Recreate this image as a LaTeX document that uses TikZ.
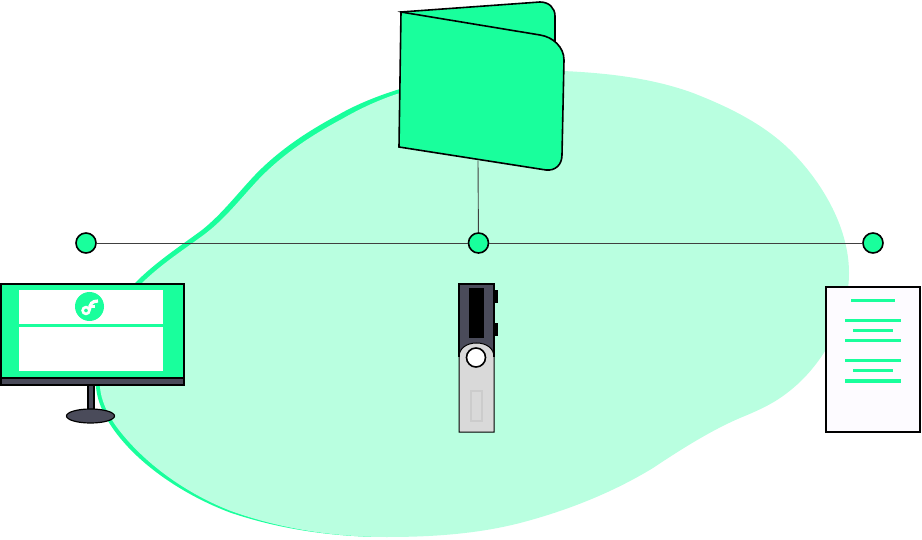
\documentclass[tikz,border=0pt]{standalone}
\definecolor{mint}{HTML}{19FF9C}
\definecolor{palemint}{HTML}{B9FFE0}
\definecolor{slate}{HTML}{4A4B5A}
\definecolor{sheet}{HTML}{FDFBFF}
\tikzset{
  dot/.style={circle,draw=black,fill=mint,line width=1.6pt,minimum size=20pt,inner sep=0pt},
  wire/.style={draw=black!75,line width=0.9pt},
  rule/.style={draw=mint,line width=3pt},
}
\begin{document}
\begin{tikzpicture}[x=1pt,y=-1pt]
        \useasboundingbox (0, 0) rectangle (922, 540);
        % blob, mint edge first
        \fill[mint] (387, 537) .. controls (334, 537) and (280, 529.5) .. (230, 512.5)
            .. controls (186, 496) and (139, 466) .. (112.5, 428)
            .. controls (103, 414) and (97, 400) .. (96, 387)
            .. controls (95, 348) and (111, 307) .. (136, 282)
            .. controls (156, 262) and (179, 247) .. (202, 230)
            .. controls (222, 214) and (237, 194) .. (255, 175)
            .. controls (279, 150) and (308, 131) .. (338, 115)
            .. controls (357, 104) and (380, 95) .. (400, 89)
            .. controls (455, 76) and (510, 70) .. (563, 71) -- cycle;
        \fill[palemint] (563, 71) .. controls (607, 73) and (652, 78) .. (693, 93)
            .. controls (729, 107) and (766, 125) .. (793, 153)
            .. controls (824, 185) and (849, 229) .. (849, 273)
            .. controls (849, 318) and (823, 366) .. (787, 393)
            .. controls (773, 404) and (757, 411) .. (740, 418)
            .. controls (712, 430) and (683, 448) .. (653, 468)
            .. controls (612, 493) and (566, 511) .. (520, 523)
            .. controls (477, 534) and (432, 537) .. (387, 537)
            .. controls (334, 537) and (281, 529) .. (231, 511)
            .. controls (187, 494) and (143, 463) .. (116, 426)
            .. controls (107, 413) and (101, 400) .. (100, 387)
            .. controls (99, 350) and (115, 310) .. (140, 285)
            .. controls (160, 265) and (182, 251) .. (205, 234)
            .. controls (226, 218) and (241, 198) .. (259, 179)
            .. controls (283, 154) and (312, 135) .. (342, 119)
            .. controls (361, 108) and (381, 99) .. (400, 93)
            .. controls (455, 78) and (510, 70) .. (563, 71) -- cycle;

        % wallet
        \draw[fill=mint, line width=1.6pt] (401, 12) -- (540, 2)
            .. controls (549, 2) and (555, 8) .. (555, 16) -- (555, 45) -- (480, 45) -- cycle;
        \node[inner sep=0pt, minimum size=1pt] (wallet) at (478, 160) {};
        \draw[fill=mint, line width=1.6pt] (401, 12) -- (540, 35)
            .. controls (553, 37) and (564, 47) .. (564, 60)
            -- (562, 155) .. controls (562, 165) and (555, 171) .. (546, 170)
            -- (399, 147) -- cycle;

        % dots
        \node[dot] (dotleft) at (86, 243) {};
        \node[dot] (dotmid) at (478.5, 243) {};
        \node[dot] (dotright) at (873, 243) {};
        \draw[wire] (dotleft) -- (dotmid);
        \draw[wire] (dotmid) -- (dotright);
        \draw[wire] (wallet) -- (dotmid);

        % monitor
        \draw[fill=slate, line width=1.2pt] (88, 384) rectangle (94, 412);
        \draw[fill=slate, line width=1.2pt] (90.5, 416) ellipse (24 and 7);
        \draw[fill=mint, line width=1.8pt] (0.9, 284) rectangle (184, 378);
        \draw[fill=slate, line width=1.8pt] (0.9, 378) rectangle (184, 385);
        \fill[white] (19, 290) rectangle (163, 371);
        \draw[rule] (19, 326) -- (163, 326);
        \fill[mint] (89.5, 306.5) circle (14.5);
        \draw[white, line width=2.6pt] (86, 310.5) circle (3.4);
        \draw[white, line width=3.2pt] (89.5, 310) .. controls (89.5, 304) and (92, 301) .. (98, 301);
        \draw[white, line width=2.6pt] (89, 306.5) -- (95, 306.5);

        % ledger
        \fill[slate] (459, 284) rectangle (494, 350);
        \fill[black] (494, 290) rectangle (498, 303);
        \fill[black] (494, 323) rectangle (498, 336);
        \fill[black] (469, 288) rectangle (484, 338);
        \draw[fill=black!15, line width=1pt] (459, 357) .. controls (459, 348) and (467, 343) .. (476.5, 343)
            .. controls (486, 343) and (494, 348) .. (494, 357)
            -- (494, 432) -- (459, 432) -- cycle;
        \draw[black, line width=1.2pt] (459, 357) -- (459, 284) -- (494, 284) -- (494, 357);
        \draw[black!20, line width=1.2pt] (471, 391) rectangle (482, 421);
        \draw[fill=white, line width=1.6pt] (476, 357.5) circle (9.5);

        % document
        \draw[fill=sheet, line width=2pt] (826, 287) rectangle (920, 431.5);
        \draw[rule] (851, 301) -- (895, 301);
        \draw[rule] (845, 321) -- (901, 321);
        \draw[rule] (853, 331) -- (893, 331);
        \draw[rule] (845, 341) -- (901, 341);
        \draw[rule] (845, 361) -- (901, 361);
        \draw[rule] (853, 371) -- (893, 371);
        \draw[rule] (845, 381) -- (901, 381);
\end{tikzpicture}
\end{document}
